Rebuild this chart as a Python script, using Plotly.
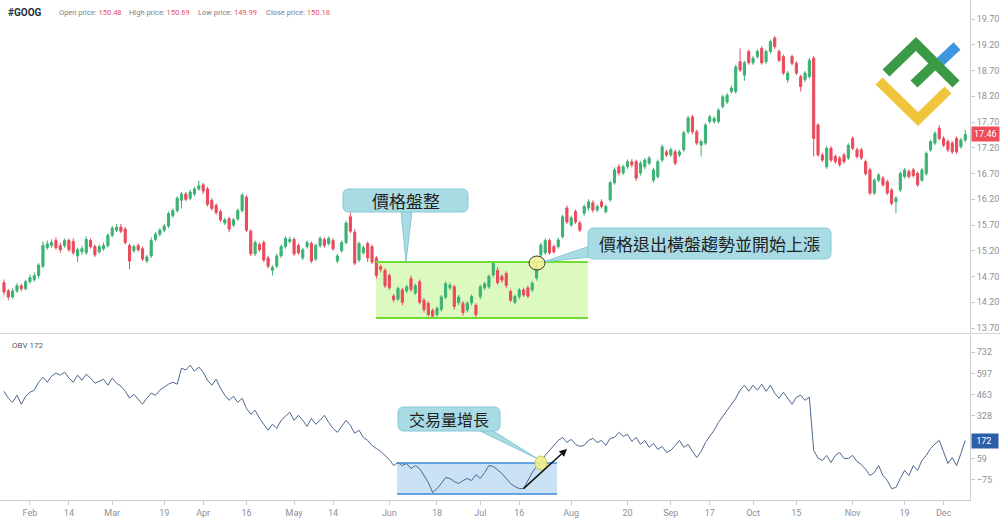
import pandas as pd
import plotly.graph_objects as go

# ---------------- data ----------------
open_ = [14.58, 14.42, 14.30, 14.42, 14.52, 14.46, 14.60, 14.64, 14.72, 14.90,
         15.26, 15.30, 15.40, 15.30, 15.30, 15.40, 15.38, 15.10, 15.18, 15.16,
         15.40, 15.28, 15.18, 15.24, 15.30, 15.50, 15.60, 15.66, 15.62, 15.30,
         15.20, 15.30, 15.24, 15.00, 15.10, 15.42, 15.52, 15.60, 15.68, 15.88,
         15.98, 16.18, 16.30, 16.22, 16.30, 16.40, 16.48, 16.40, 16.18, 16.08,
         15.96, 15.74, 15.82, 15.70, 15.82, 15.98, 16.24, 15.58, 15.14,
         15.32, 15.36, 15.06, 14.82, 14.90, 15.10, 15.28, 15.38, 15.42, 15.30,
         15.06, 15.28, 15.34, 15.04, 15.30, 15.42, 15.34, 15.40, 15.00, 15.20,
         15.36, 15.86, 15.56, 15.02,
         15.16, 15.34,
         15.28, 15.06, 14.89, 14.82, 14.72, 14.32, 14.26, 14.44, 14.42, 14.66,
         14.38, 14.60, 14.24, 14.18, 14.04, 13.96, 14.06, 14.30, 14.48, 14.50,
         14.19, 14.18, 14.05, 14.19, 14.14, 14.31, 14.48, 14.50, 14.73, 14.82,
         14.70, 14.76, 14.41, 14.20, 14.31, 14.44, 14.48, 14.44, 14.67,
         15.12, 15.16, 15.40, 15.28, 15.28, 15.47, 16.03, 15.70, 15.96, 15.74,
         15.93, 16.03, 16.13, 15.99, 16.15, 15.96, 16.19, 16.52, 16.83, 16.71,
         16.83, 16.93, 16.93, 16.71, 16.83, 16.90, 16.57, 16.64, 16.96, 17.12,
         17.06, 17.12, 17.06, 17.16, 17.51, 17.80, 17.51, 17.25, 17.29, 17.71,
         17.71, 17.71, 18.00, 18.09, 18.29, 18.29, 18.87, 18.61, 19.07, 18.85,
         18.97, 19.13, 18.87, 19.07, 19.33, 19.07, 18.97, 18.52, 18.97, 18.84,
         18.58, 18.52, 18.58, 18.94, 17.64, 17.06, 16.83, 17.19, 17.03, 17.00,
         17.06, 17.00, 17.38, 17.16, 17.16, 16.93, 16.77, 16.32, 16.57, 16.61,
         16.54, 16.38, 16.15, 16.38, 16.64, 16.74, 16.77, 16.70, 16.57, 16.70,
         17.16, 17.29, 17.58, 17.38, 17.32, 17.29, 17.38, 17.22, 17.35]

close = [14.40, 14.30, 14.42, 14.52, 14.46, 14.60, 14.68, 14.72, 14.92, 15.30,
         15.33, 15.36, 15.26, 15.22, 15.40, 15.22, 15.16, 15.22, 15.24, 15.42,
         15.28, 15.12, 15.28, 15.30, 15.50, 15.64, 15.66, 15.58, 15.36, 15.00,
         15.28, 15.22, 15.04, 15.08, 15.40, 15.52, 15.60, 15.68, 15.92, 15.98,
         16.22, 16.30, 16.20, 16.34, 16.40, 16.46, 16.36, 16.10, 16.02, 15.94,
         15.80, 15.80, 15.62, 15.80, 15.98, 16.28, 15.60, 15.14, 15.36,
         15.22, 15.02, 14.90, 14.88, 15.10, 15.28, 15.44, 15.42, 15.14, 15.16,
         15.22, 15.36, 15.00, 15.30, 15.44, 15.30, 15.44, 15.24, 15.10, 15.36,
         15.74, 15.58, 14.96, 15.34,
         15.26, 15.06,
         14.98, 14.72, 14.84, 14.52, 14.48, 14.25, 14.47, 14.20, 14.50, 14.45,
         14.52, 14.20, 14.06, 13.96, 13.93, 14.08, 14.30, 14.56, 14.53, 14.12,
         14.30, 14.00, 14.18, 14.31, 13.96, 14.50, 14.56, 14.70, 14.96, 14.58,
         14.63, 14.53, 14.24, 14.31, 14.44, 14.34, 14.32, 14.57, 14.89,
         15.31, 15.40, 15.16, 15.18, 15.41, 15.86, 15.76, 15.84, 15.76, 15.60,
         16.06, 16.15, 15.99, 16.06, 16.06, 16.06, 16.52, 16.77, 16.71, 16.83,
         16.93, 16.87, 16.61, 16.90, 16.96, 17.00, 16.77, 16.93, 17.22, 17.06,
         17.16, 16.90, 17.12, 17.49, 17.78, 17.51, 17.29, 17.32, 17.64, 17.80,
         17.77, 17.93, 18.19, 18.22, 18.36, 18.77, 18.71, 18.85, 18.85, 18.94,
         19.07, 18.85, 19.07, 19.26, 19.16, 18.90, 18.65, 18.65, 18.84, 18.65,
         18.39, 18.65, 18.90, 17.38, 17.06, 16.96, 17.19, 16.96, 16.93, 16.87,
         16.93, 17.25, 17.19, 17.03, 17.00, 16.70, 16.32, 16.57, 16.67, 16.48,
         16.32, 16.12, 16.22, 16.70, 16.77, 16.64, 16.66, 16.48, 16.77, 17.09,
         17.32, 17.48, 17.38, 17.25, 17.16, 17.12, 17.12, 17.35, 17.46]

high = [14.64, 14.46, 14.47, 14.57, 14.56, 14.64, 14.74, 14.78, 14.96, 15.38,
        15.40, 15.42, 15.46, 15.36, 15.44, 15.44, 15.44, 15.26, 15.30, 15.48,
        15.44, 15.32, 15.32, 15.36, 15.54, 15.68, 15.72, 15.72, 15.66, 15.34,
        15.32, 15.34, 15.28, 15.12, 15.46, 15.56, 15.64, 15.72, 15.96, 16.02,
        16.26, 16.34, 16.34, 16.38, 16.44, 16.56, 16.52, 16.44, 16.22, 16.12,
        16.00, 15.84, 15.86, 15.84, 16.02, 16.32, 16.28, 15.62, 15.40,
        15.36, 15.40, 15.10, 14.92, 15.14, 15.32, 15.48, 15.48, 15.46, 15.34,
        15.26, 15.40, 15.38, 15.34, 15.48, 15.46, 15.48, 15.44, 15.14, 15.40,
        15.78, 15.96, 15.62, 15.38,
        15.30, 15.38,
        15.32, 15.10, 14.93, 14.86, 14.76, 14.36, 14.50, 14.48, 14.54, 14.72,
        14.56, 14.64, 14.28, 14.22, 14.08, 14.12, 14.34, 14.60, 14.58, 14.54,
        14.34, 14.22, 14.22, 14.35, 14.18, 14.54, 14.60, 14.74, 15.00, 14.88,
        14.74, 14.80, 14.45, 14.35, 14.48, 14.48, 14.52, 14.61, 14.99,
        15.36, 15.44, 15.44, 15.32, 15.45, 15.90, 16.08, 15.88, 16.00, 15.78,
        16.10, 16.20, 16.18, 16.10, 16.20, 16.10, 16.56, 16.82, 16.88, 16.87,
        16.97, 16.98, 16.97, 16.94, 17.00, 17.04, 16.81, 16.97, 17.26, 17.16,
        17.20, 17.16, 17.16, 17.53, 17.82, 17.84, 17.55, 17.36, 17.68, 17.84,
        17.81, 17.97, 18.23, 18.26, 18.40, 18.81, 19.13, 18.89, 19.11, 18.98,
        19.11, 19.17, 19.11, 19.30, 19.37, 19.11, 19.01, 18.69, 19.01, 18.88,
        18.62, 18.69, 18.94, 18.98, 17.68, 17.10, 17.23, 17.23, 17.07, 17.04,
        17.10, 17.29, 17.42, 17.20, 17.20, 16.97, 16.81, 16.61, 16.71, 16.65,
        16.58, 16.42, 16.26, 16.74, 16.81, 16.78, 16.81, 16.74, 16.81, 17.13,
        17.36, 17.52, 17.64, 17.42, 17.36, 17.33, 17.42, 17.39, 17.55]

low = [14.34, 14.24, 14.27, 14.38, 14.41, 14.43, 14.56, 14.60, 14.66, 14.86,
       15.22, 15.26, 15.22, 15.16, 15.26, 15.18, 15.12, 14.98, 15.12, 15.12,
       15.24, 15.08, 15.14, 15.20, 15.26, 15.46, 15.56, 15.54, 15.32, 14.84,
       15.16, 15.18, 15.00, 14.96, 15.06, 15.38, 15.48, 15.56, 15.64, 15.84,
       15.94, 16.02, 16.16, 16.18, 16.26, 16.36, 16.30, 16.06, 15.98, 15.90,
       15.76, 15.70, 15.56, 15.66, 15.78, 15.94, 15.56, 15.10, 15.10,
       15.18, 14.98, 14.86, 14.72, 14.86, 15.06, 15.24, 15.34, 15.10, 15.12,
       15.02, 15.24, 14.96, 15.00, 15.26, 15.26, 15.30, 15.20, 14.96, 15.16,
       15.32, 15.54, 14.92, 14.98,
       15.12, 14.98,
       14.94, 14.66, 14.78, 14.48, 14.44, 14.20, 14.22, 14.14, 14.38, 14.40,
       14.34, 14.16, 14.00, 13.92, 13.88, 13.92, 14.02, 14.26, 14.44, 14.06,
       14.14, 13.94, 14.00, 14.14, 13.90, 14.26, 14.44, 14.46, 14.68, 14.54,
       14.58, 14.48, 14.20, 14.16, 14.26, 14.30, 14.28, 14.40, 14.62,
       15.08, 15.12, 15.12, 15.14, 15.24, 15.44, 15.72, 15.66, 15.72, 15.56,
       15.88, 15.98, 15.94, 15.95, 16.02, 15.92, 16.15, 16.48, 16.66, 16.67,
       16.79, 16.82, 16.56, 16.66, 16.78, 16.86, 16.52, 16.60, 16.92, 17.02,
       17.02, 16.86, 17.02, 17.12, 17.47, 17.46, 17.25, 17.03, 17.25, 17.67,
       17.67, 17.67, 17.96, 18.05, 18.25, 18.25, 18.67, 18.50, 18.81, 18.81,
       18.93, 18.81, 18.83, 19.03, 19.12, 18.86, 18.61, 18.46, 18.80, 18.61,
       18.29, 18.48, 18.54, 17.03, 17.02, 16.92, 16.79, 16.92, 16.89, 16.83,
       16.89, 16.96, 17.15, 16.99, 16.96, 16.66, 16.28, 16.28, 16.53, 16.44,
       16.28, 16.08, 15.93, 16.34, 16.60, 16.60, 16.62, 16.44, 16.53, 16.66,
       17.12, 17.25, 17.34, 17.21, 17.12, 17.08, 17.08, 17.18, 17.31]

obv = [484, 440, 414, 459, 402, 452, 478, 491, 541, 573,
       541, 580, 599, 586, 605, 567, 541, 586, 554, 592,
       567, 535, 548, 560, 522, 567, 535, 516, 484, 440,
       465, 433, 402, 440, 472, 459, 491, 510, 529, 541,
       529, 630, 618, 649, 611, 637, 605, 554, 522, 560,
       503, 459, 427, 452, 414, 440, 376, 338, 364, 313,
       275, 237, 275, 249, 300, 326, 351, 300, 332, 300,
       262, 313, 275, 300, 332, 287, 249, 224, 262, 300,
       268, 218, 237, 192, 173, 141, 122, 103, 78, 52,
       14, 33, 14, 27, -5, 14, -5, -49, -94, -157,
       -132, -100, -62, -68, -87, -100, -81, -68, -81, -43,
       -68, -30, 14, 8, -17, -36, -68, -100, -119, -132,
       -132, -81, -30, 8, 33, 78, 110, 141, 173, 192,
       160, 180, 148, 135, 141, 173, 186, 160, 173, 141,
       186, 192, 224, 199, 211, 167, 192, 148, 173, 129,
       154, 116, 135, 97, 110, 141, 173, 129, 148, 103,
       65, 103, 160, 199, 237, 287, 326, 364, 408, 440,
       491, 522, 484, 522, 491, 529, 484, 522, 472, 440,
       478, 440, 402, 446, 459, 427,
       446, 110, 60, 46, 78, 33, 78, 97, 59, 59,
       78, 40, 20, -10, -49, -30, 14, -49, -81, -132,
       -125, -68, -17, -49, 14, -17, 46, 78, 122, 150,
       173, 100, 27, 65, 14, 90, 172]

holidays = ["2018-02-19", "2018-03-30", "2018-05-28", "2018-07-04",
            "2018-09-03", "2018-11-22", "2018-12-05"]
dates = pd.bdate_range("2018-01-24", "2018-12-11", freq="C", holidays=holidays)
x = [d.strftime("%Y-%m-%d") for d in dates]

tick_dates = ["2018-02-01", "2018-02-14", "2018-03-01", "2018-03-19", "2018-04-02",
              "2018-04-16", "2018-05-01", "2018-05-14", "2018-06-01", "2018-06-18",
              "2018-07-02", "2018-07-16", "2018-08-01", "2018-08-20", "2018-09-04",
              "2018-09-17", "2018-10-01", "2018-10-15", "2018-11-01", "2018-11-19",
              "2018-12-03"]
tick_text = ["Feb", "14", "Mar", "19", "Apr", "16", "May", "14", "Jun", "18",
             "Jul", "16", "Aug", "20", "Sep", "17", "Oct", "15", "Nov", "19", "Dec"]

price_ticks = [13.70, 14.20, 14.70, 15.20, 15.70, 16.20, 16.70, 17.20, 17.70,
               18.20, 18.70, 19.20, 19.70]
obv_ticks = [732, 597, 463, 328, 59, -75]

last_price = 17.46
last_obv = 172

# ---------------- figure ----------------
UP = "#3bb273"
DN = "#ea4a5c"
AX = "#c9ccd1"
TXT = "#8c9099"
W, H = 970.0, 500.0  # plot area in pixels


def px(v):
    return v / W


def py(v):
    return (H - v) / H


def P(a, b):
    return f"{px(a):.5f},{py(b):.5f}"


def rrect(x0, y0, x1, y1, r):
    return (f"M {P(x0 + r, y0)} L {P(x1 - r, y0)} Q {P(x1, y0)} {P(x1, y0 + r)} "
            f"L {P(x1, y1 - r)} Q {P(x1, y1)} {P(x1 - r, y1)} "
            f"L {P(x0 + r, y1)} Q {P(x0, y1)} {P(x0, y1 - r)} "
            f"L {P(x0, y0 + r)} Q {P(x0, y0)} {P(x0 + r, y0)} Z")


fig = go.Figure()
fig.add_trace(go.Candlestick(
    x=x, open=open_, high=high, low=low, close=close,
    increasing=dict(line=dict(color=UP, width=1), fillcolor=UP),
    decreasing=dict(line=dict(color=DN, width=1), fillcolor=DN),
    whiskerwidth=0, xaxis="x", yaxis="y", showlegend=False, hoverinfo="skip"))
fig.add_trace(go.Scatter(
    x=x, y=obv, mode="lines", line=dict(color="#4a6890", width=1),
    xaxis="x", yaxis="y2", showlegend=False, hoverinfo="skip"))

shapes = []
CALL_FILL = "#a9dbe4"
CALL_LINE = "#86c8d4"
# consolidation box (price)
shapes.append(dict(type="rect", xref="paper", yref="paper", x0=px(376), x1=px(588),
                   y0=py(318), y1=py(262), fillcolor="rgba(196,246,150,0.6)",
                   line=dict(width=0), layer="below"))
for yy in (262, 318):
    shapes.append(dict(type="line", xref="paper", yref="paper", x0=px(376), x1=px(588),
                       y0=py(yy), y1=py(yy), line=dict(color="#72dc30", width=2)))
# volume box (OBV)
shapes.append(dict(type="rect", xref="paper", yref="paper", x0=px(397), x1=px(557),
                   y0=py(494), y1=py(463), fillcolor="rgba(168,205,240,0.6)",
                   line=dict(width=0), layer="below"))
for yy in (463, 494):
    shapes.append(dict(type="line", xref="paper", yref="paper", x0=px(397), x1=px(557),
                       y0=py(yy), y1=py(yy), line=dict(color="#3d8ad8", width=1.5)))
# separator between panels
shapes.append(dict(type="line", xref="paper", yref="paper", x0=0, x1=1000 / W,
                   y0=py(333.5), y1=py(333.5), line=dict(color="#d3d5d9", width=1)))
# callout pointers
for pts in ([(401, 211), (412, 211), (406, 262)],
            [(590, 246), (590, 257), (543, 262)],
            [(476, 429), (490, 429), (538, 459)]):
    path = "M " + " L ".join(P(a, b) for a, b in pts) + " Z"
    shapes.append(dict(type="path", xref="paper", yref="paper", path=path,
                       fillcolor=CALL_FILL, line=dict(color=CALL_LINE, width=1)))
# callout boxes
for (a0, b0, a1, b1) in ((343, 189, 468, 212), (588, 228, 831, 259), (398, 407, 500, 431)):
    shapes.append(dict(type="path", xref="paper", yref="paper",
                       path=rrect(a0, b0, a1, b1, 6), fillcolor=CALL_FILL,
                       line=dict(color=CALL_LINE, width=1)))
# ellipses
shapes.append(dict(type="circle", xref="paper", yref="paper", x0=px(529), x1=px(545),
                   y0=py(270), y1=py(256), fillcolor="rgba(240,238,150,0.85)",
                   line=dict(color="#3a3a2a", width=1)))
shapes.append(dict(type="circle", xref="paper", yref="paper", x0=px(535), x1=px(547),
                   y0=py(470), y1=py(456), fillcolor="rgba(238,240,140,0.9)",
                   line=dict(color="#b8d060", width=1)))
# logo
LOGO_W = 10
shapes.append(dict(type="path", xref="paper", yref="paper",
                   path=f"M {P(940, 62)} L {P(957, 46)}",
                   line=dict(color="#3e96de", width=LOGO_W)))
shapes.append(dict(type="path", xref="paper", yref="paper",
                   path=f"M {P(879, 81)} L {P(918, 119)} L {P(948, 90)}",
                   line=dict(color="#f0c53c", width=LOGO_W)))
shapes.append(dict(type="path", xref="paper", yref="paper",
                   path=f"M {P(886, 73)} L {P(916, 44)} L {P(956, 84)}",
                   line=dict(color="#3a9a45", width=LOGO_W)))
shapes.append(dict(type="path", xref="paper", yref="paper",
                   path=f"M {P(914, 84)} L {P(937, 62)}",
                   line=dict(color="#3a9a45", width=LOGO_W)))

annotations = []
FONT = "Roboto, Arial, sans-serif"
CJK = "Noto Sans CJK TC, Noto Sans CJK SC, sans-serif"
annotations.append(dict(xref="paper", yref="paper", x=px(6), y=py(12), xanchor="left",
                        yanchor="middle", showarrow=False, text="<b>#GOOG</b>",
                        font=dict(family=FONT, size=10, color="#2b2f36")))
for xx, lab, val in ((57, "Open price:", "150.48"), (127, "High price:", "150.69"),
                     (196, "Low price:", "149.99"), (264, "Close price:", "150.18")):
    annotations.append(dict(xref="paper", yref="paper", x=px(xx), y=py(12), xanchor="left",
                            yanchor="middle", showarrow=False,
                            text=f"{lab} <span style='color:#e4505f'>{val}</span>",
                            font=dict(family=FONT, size=7.5, color="#7b7f88")))
annotations.append(dict(xref="paper", yref="paper", x=px(10), y=py(345), xanchor="left",
                        yanchor="middle", showarrow=False, text=f"OBV {last_obv}",
                        font=dict(family=FONT, size=8, color="#555a63")))
annotations.append(dict(xref="paper", yref="y", x=1, y=last_price, xanchor="left",
                        yanchor="middle", xshift=1, showarrow=False,
                        text=f"{last_price:.2f}", bgcolor="#ee4d5a", borderpad=2,
                        font=dict(family=FONT, size=9, color="white")))
annotations.append(dict(xref="paper", yref="y2", x=1, y=last_obv, xanchor="left",
                        yanchor="middle", xshift=1, showarrow=False,
                        text=f" {last_obv}  ", bgcolor="#2c5fa8", borderpad=2,
                        font=dict(family=FONT, size=9, color="white")))
for cx, cy, t, s in ((405.5, 200.5, "價格盤整", 17), (709.5, 243.5, "價格退出橫盤趨勢並開始上漲", 17),
                     (449, 419, "交易量增長", 16)):
    annotations.append(dict(xref="paper", yref="paper", x=px(cx), y=py(cy), xanchor="center",
                            yanchor="middle", showarrow=False, text=t,
                            font=dict(family=CJK, size=s, color="#222222")))
# arrow in OBV panel
annotations.append(dict(xref="paper", yref="paper", x=px(567), y=py(449), ax=-45, ay=41,
                        showarrow=True, arrowhead=2, arrowsize=1, arrowwidth=1.5,
                        arrowcolor="#111111", text=""))

fig.update_layout(
    width=1000, height=520,
    margin=dict(l=0, r=30, t=0, b=20),
    paper_bgcolor="white", plot_bgcolor="white",
    font=dict(family=FONT, size=9, color=TXT),
    showlegend=False,
    hovermode=False,
    xaxis=dict(type="category", range=[-0.92, 223.1], anchor="y2",
               tickmode="array", tickvals=tick_dates, ticktext=tick_text,
               showgrid=False, zeroline=False, showline=True, linecolor=AX,
               ticks="outside", ticklen=4, tickcolor=AX,
               tickfont=dict(size=9, color=TXT),
               rangeslider=dict(visible=False)),
    yaxis=dict(domain=[0.334, 1], anchor="x", side="right",
               range=[13.603, 20.069], tickmode="array", tickvals=price_ticks,
               tickformat=".2f", showgrid=False, zeroline=False, showline=True,
               linecolor=AX, ticks="outside", ticklen=4, tickcolor=AX,
               tickfont=dict(size=9, color=TXT)),
    yaxis2=dict(domain=[0, 0.33], anchor="x", side="right",
                range=[-204, 840], tickmode="array", tickvals=obv_ticks,
                showgrid=False, zeroline=False, showline=True,
                linecolor=AX, ticks="outside", ticklen=4, tickcolor=AX,
                tickfont=dict(size=9, color=TXT)),
    shapes=shapes, annotations=annotations,
)

fig.write_html("out.html", config={"displayModeBar": False},
               post_script="document.body.style.margin='0';document.body.style.overflow='hidden';")
